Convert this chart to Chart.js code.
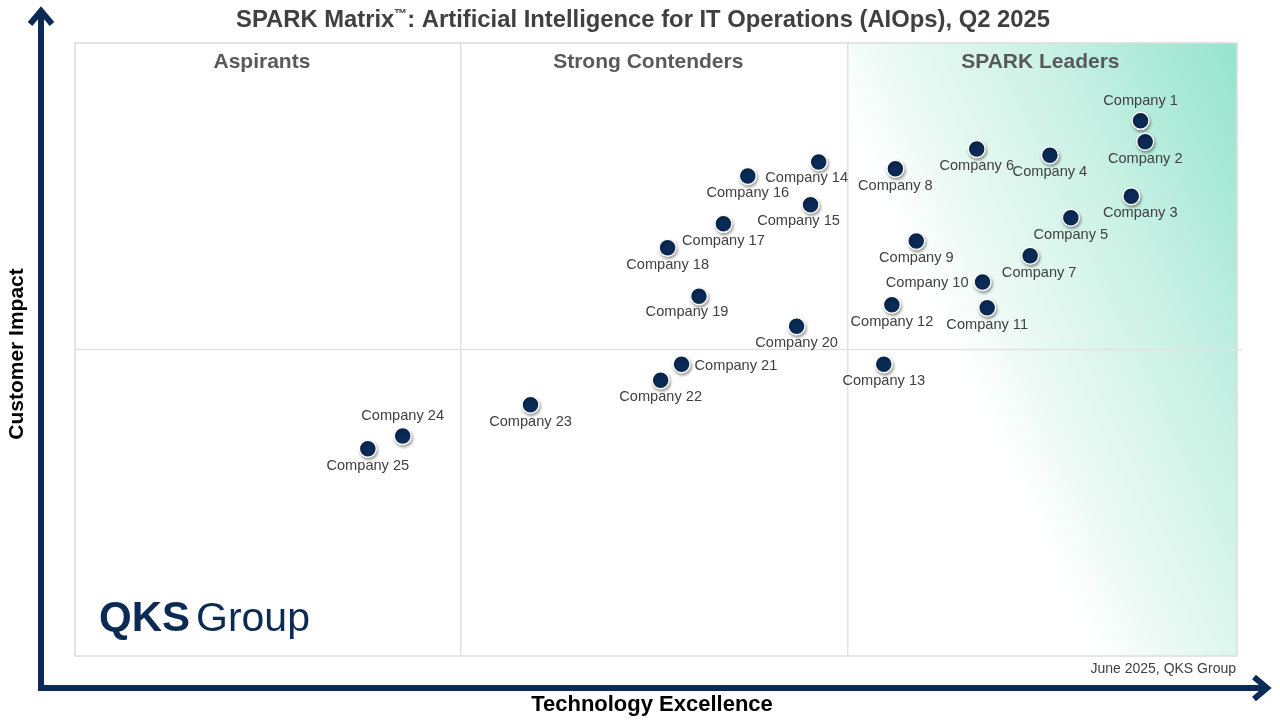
<!DOCTYPE html>
<html>
<head>
<meta charset="utf-8">
<title>SPARK Matrix AIOps Q2 2025</title>
<script src="https://cdn.jsdelivr.net/npm/chart.js@4.4.1/dist/chart.umd.min.js"></script>
<style>
  html, body { margin: 0; padding: 0; background: #fff; }
  #wrap { width: 1280px; height: 720px; }
</style>
</head>
<body>
<div id="wrap"><canvas id="matrix" width="1280" height="720"></canvas></div>
<script>
// vendors and their position (technology excellence, customer impact)
const companies = ['Company 1','Company 2','Company 3','Company 4','Company 5','Company 6','Company 7',
  'Company 8','Company 9','Company 10','Company 11','Company 12','Company 13','Company 14','Company 15',
  'Company 16','Company 17','Company 18','Company 19','Company 20','Company 21','Company 22','Company 23',
  'Company 24','Company 25'];
const techExcellence = [91.7, 92.1, 90.9, 83.9, 85.7, 77.6, 82.2, 70.6, 72.4, 78.1, 78.5, 70.3, 69.6,
  64.0, 63.3, 57.9, 55.8, 51.0, 53.7, 62.1, 52.2, 50.4, 39.2, 28.2, 25.2];
const customerImpact = [87.3, 83.9, 75.0, 81.7, 71.5, 82.7, 65.3, 79.5, 67.7, 61.0, 56.8, 57.3, 47.6,
  80.6, 73.6, 78.3, 70.5, 66.6, 58.7, 53.8, 47.6, 45.0, 41.0, 35.9, 33.8];
// where each name sits next to its dot
const labelSide = ['above','below','belowRight','below','below','below','belowRight','below','below','left',
  'below','below','below','belowLeft','belowLeft','below','below','below','belowLeft','below','right',
  'below','below','above','below'];
const quadrants = ['Aspirants', 'Strong Contenders', 'SPARK Leaders'];
const xDividers = [33.2, 66.5];
const yDivider = 50;

const navy = '#0b2a55';
const font = '"Liberation Sans", Arial, sans-serif';

const points = [];
for (let i = 0; i < companies.length; i++) {
    points.push({ x: techExcellence[i], y: customerImpact[i] });
}

// background: leaders gradient, dividers, frame
const backdrop = {
    id: 'backdrop',
    beforeDatasetsDraw(chart) {
        const { ctx, chartArea: a, scales: { x, y } } = chart;
        const xl = x.getPixelForValue(xDividers[1]);
        ctx.save();
        const g = ctx.createLinearGradient(955, 350, 1300, 190);
        g.addColorStop(0, 'rgba(255,255,255,1)');
        g.addColorStop(0.15, '#eefaf6');
        g.addColorStop(0.55, '#c9f1e4');
        g.addColorStop(1, '#96e4ce');
        ctx.fillStyle = g;
        ctx.fillRect(xl, a.top, a.right - xl, a.bottom - a.top);

        ctx.strokeStyle = '#e2e2e2';
        ctx.lineWidth = 1.5;
        ctx.beginPath();
        for (let v of xDividers) {
            const px = x.getPixelForValue(v);
            ctx.moveTo(px, a.top);
            ctx.lineTo(px, a.bottom);
        }
        const py = y.getPixelForValue(yDivider);
        ctx.moveTo(a.left, py);
        ctx.lineTo(a.right + 5, py);
        ctx.stroke();

        ctx.strokeStyle = '#dcdcdc';
        ctx.strokeRect(a.left, a.top, a.right - a.left, a.bottom - a.top);

        // quadrant headings
        ctx.fillStyle = '#595959';
        ctx.font = 'bold 21px ' + font;
        ctx.textAlign = 'center';
        ctx.textBaseline = 'middle';
        const edges = [a.left, x.getPixelForValue(xDividers[0]), xl, a.right];
        const shift = [-6, -6, -2];
        for (let i = 0; i < quadrants.length; i++) {
            ctx.fillText(quadrants[i], (edges[i] + edges[i + 1]) / 2 + shift[i], a.top + 19);
        }
        ctx.restore();

        // soft shadow under the dots
        ctx.save();
        ctx.shadowColor = 'rgba(0,0,0,0.35)';
        ctx.shadowOffsetX = 1;
        ctx.shadowOffsetY = 2;
        ctx.shadowBlur = 3;
    },
    afterDatasetsDraw(chart) {
        chart.ctx.restore();
    }
};

// names, titles, axis arrows, logo
const decorations = {
    id: 'decorations',
    afterDraw(chart) {
        const { ctx, chartArea: a } = chart;
        const meta = chart.getDatasetMeta(0);
        ctx.save();
        ctx.font = '14.6px ' + font;
        ctx.fillStyle = '#404040';
        ctx.textBaseline = 'middle';
        meta.data.forEach((pt, i) => {
            const side = labelSide[i];
            let tx = pt.x, ty = pt.y + 17;
            ctx.textAlign = 'center';
            if (side === 'above') ty = pt.y - 20;
            if (side === 'belowRight') tx = pt.x + 9;
            if (side === 'belowLeft') { tx = pt.x - 12; ty = pt.y + 16; }
            if (side === 'left') { ctx.textAlign = 'right'; tx = pt.x - 14; ty = pt.y + 1; }
            if (side === 'right') { ctx.textAlign = 'left'; tx = pt.x + 13; ty = pt.y + 2; }
            ctx.fillText(companies[i], tx, ty);
        });

        // main title, with a small raised trade mark
        const t1 = 'SPARK Matrix', tm = '\u2122', t2 = ': Artificial Intelligence for IT Operations (AIOps), Q2 2025';
        ctx.fillStyle = '#404040';
        ctx.textAlign = 'left';
        ctx.font = 'bold 23.8px ' + font;
        const w1 = ctx.measureText(t1).width, w2 = ctx.measureText(t2).width;
        ctx.font = 'bold 13px ' + font;
        const wt = ctx.measureText(tm).width;
        let sx = 643 - (w1 + wt + w2) / 2;
        ctx.font = 'bold 23.8px ' + font;
        ctx.fillText(t1, sx, 20);
        ctx.font = 'bold 13px ' + font;
        ctx.fillText(tm, sx + w1, 14);
        ctx.font = 'bold 23.8px ' + font;
        ctx.fillText(t2, sx + w1 + wt, 20);

        // axis arrows
        ctx.strokeStyle = navy;
        ctx.lineWidth = 6;
        ctx.lineCap = 'butt';
        ctx.lineJoin = 'miter';
        ctx.beginPath();
        ctx.moveTo(41, 691);
        ctx.lineTo(41, 12);
        ctx.moveTo(38, 688);
        ctx.lineTo(1266, 688);
        ctx.stroke();
        ctx.beginPath();
        ctx.moveTo(30, 24);
        ctx.lineTo(41, 11);
        ctx.lineTo(52, 24);
        ctx.moveTo(1254, 677);
        ctx.lineTo(1267, 688);
        ctx.lineTo(1254, 699);
        ctx.stroke();

        // axis titles
        ctx.fillStyle = '#000';
        ctx.font = 'bold 22px ' + font;
        ctx.textAlign = 'center';
        ctx.fillText('Technology Excellence', 652, 705);
        ctx.font = 'bold 21px ' + font;
        ctx.save();
        ctx.translate(17, 354);
        ctx.rotate(-Math.PI / 2);
        ctx.fillText('Customer Impact', 0, 0);
        ctx.restore();

        // footer
        ctx.fillStyle = '#404040';
        ctx.font = '14px ' + font;
        ctx.textAlign = 'right';
        ctx.fillText('June 2025, QKS Group', a.right - 1, 669);

        // logo
        ctx.fillStyle = navy;
        ctx.textAlign = 'left';
        ctx.textBaseline = 'alphabetic';
        ctx.font = '900 42px ' + font;
        ctx.fillText('QKS', 99, 631);
        const w = ctx.measureText('QKS').width;
        ctx.font = '41px ' + font;
        ctx.fillText('Group', 99 + w + 6, 631);
        ctx.restore();
    }
};

new Chart(document.getElementById('matrix'), {
    type: 'scatter',
    data: {
        datasets: [{
            label: 'Vendors',
            data: points,
            pointRadius: 8.5,
            pointHoverRadius: 8.5,
            backgroundColor: navy,
            borderColor: '#ffffff',
            borderWidth: 1.5
        }]
    },
    options: {
        responsive: false,
        animation: false,
        devicePixelRatio: 1,
        layout: { padding: { left: 75, right: 43, top: 43, bottom: 64 } },
        plugins: {
            legend: { display: false },
            title: { display: false },
            tooltip: { enabled: false }
        },
        scales: {
            x: { type: 'linear', min: 0, max: 100, display: false },
            y: { type: 'linear', min: 0, max: 100, display: false }
        }
    },
    plugins: [backdrop, decorations]
});
</script>
</body>
</html>
